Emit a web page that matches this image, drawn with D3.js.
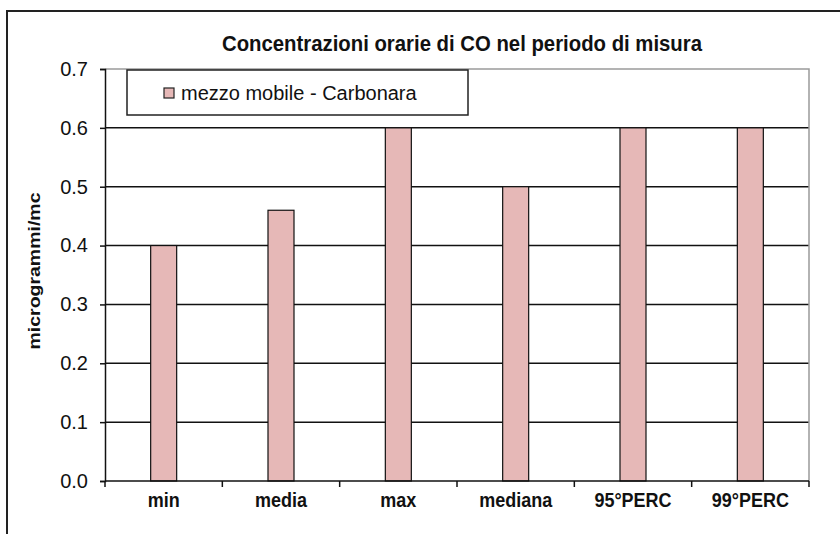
<!DOCTYPE html>
<html><head><meta charset="utf-8">
<script src="https://cdn.jsdelivr.net/npm/d3@7"></script>
<style>html,body{margin:0;padding:0;background:#fff;}svg{display:block;}</style>
</head><body>
<svg id="chart" width="840" height="534"></svg>
<script>
const categories = ["min", "media", "max", "mediana", "95°PERC", "99°PERC"];
const values = [0.4, 0.46, 0.6, 0.5, 0.6, 0.6];
const yTicks = [0.0, 0.1, 0.2, 0.3, 0.4, 0.5, 0.6, 0.7];
const seriesName = "mezzo mobile - Carbonara";
const titleText = "Concentrazioni orarie di CO nel periodo  di misura";
const yTitle = "microgrammi/mc";

const svg = d3.select("#chart");
const font = "Liberation Sans, Arial, sans-serif";
const barColor = "#e6b8b7";

// outer frame
svg.append("rect").attr("x", 7).attr("y", 11).attr("width", 900).attr("height", 600)
  .attr("fill", "none").attr("stroke", "#222").attr("stroke-width", 2);

const L = 105, R = 809, T = 69, B = 481;
const x = d3.scaleBand().domain(categories).range([L, R]);
const y = d3.scaleLinear().domain([0, 0.7]).range([B, T]);

// gridlines
svg.append("g").selectAll("line").data(yTicks.filter(d => d > 0 && d < 0.7)).join("line")
  .attr("x1", L).attr("x2", R).attr("y1", d => y(d)).attr("y2", d => y(d))
  .attr("stroke", "#111").attr("stroke-width", 1.5);
// top & right plot border (gray)
svg.append("path").attr("d", `M${L},${y(0.7)}H${R}V${B}`)
  .attr("fill", "none").attr("stroke", "#9a9a9a").attr("stroke-width", 1.5);

// bars
const bw = 26;
svg.append("g").selectAll("rect").data(categories).join("rect")
  .attr("x", (d) => x(d) + x.bandwidth() / 2 - bw / 2)
  .attr("y", (d, i) => y(values[i]))
  .attr("width", bw)
  .attr("height", (d, i) => y(0) - y(values[i]))
  .attr("fill", barColor).attr("stroke", "#111").attr("stroke-width", 1.2);

// y axis
const yAxis = d3.axisLeft(y).tickValues(yTicks).tickFormat(d3.format(".1f")).tickSize(5).tickPadding(12);
const gy = svg.append("g").attr("transform", `translate(${L},0)`).call(yAxis);
gy.select(".domain").attr("stroke", "#111").attr("stroke-width", 1.5);
gy.selectAll(".tick line").attr("stroke", "#111").attr("stroke-width", 1.5);
gy.selectAll("text").attr("font-family", font).attr("font-size", 20).attr("fill", "#111");

// x axis
const gx = svg.append("g").attr("transform", `translate(0,${B})`)
  .call(d3.axisBottom(x).tickSize(0).tickPadding(12));
gx.select(".domain").remove();
gx.append("line").attr("x1", L).attr("x2", R).attr("stroke", "#111").attr("stroke-width", 1.5);
const bounds = categories.map(c => x(c)).concat([R]);
gx.selectAll("line.sep").data(bounds).join("line").attr("class", "sep")
  .attr("x1", d => d).attr("x2", d => d).attr("y1", 0).attr("y2", 6)
  .attr("stroke", "#111").attr("stroke-width", 1.5);
gx.selectAll(".tick text").attr("font-family", font).attr("font-size", 20)
  .attr("font-weight", "bold").attr("fill", "#111").attr("dy", "0.71em")
  .attr("transform", "scale(0.9,1)").attr("x", 0);

// title
svg.append("text").attr("x", 462).attr("y", 51).attr("text-anchor", "middle")
  .attr("font-family", font).attr("font-size", 22).attr("font-weight", "bold")
  .attr("textLength", 480).attr("lengthAdjust", "spacingAndGlyphs")
  .attr("fill", "#111").text(titleText);

// y title
svg.append("text").attr("transform", "translate(40,271) rotate(-90)")
  .attr("text-anchor", "middle").attr("font-family", font).attr("font-size", 17)
  .attr("font-weight", "bold").attr("textLength", 157).attr("lengthAdjust", "spacingAndGlyphs")
  .attr("fill", "#111").text(yTitle);

// legend
const lg = svg.append("g");
lg.append("rect").attr("x", 127).attr("y", 70).attr("width", 341).attr("height", 45)
  .attr("fill", "#fff").attr("stroke", "#222").attr("stroke-width", 1.5);
lg.append("rect").attr("x", 164).attr("y", 88).attr("width", 10).attr("height", 10)
  .attr("fill", barColor).attr("stroke", "#222").attr("stroke-width", 1.2);
lg.append("text").attr("x", 181).attr("y", 100).attr("font-family", font).attr("font-size", 20)
  .attr("fill", "#111").text(seriesName);
</script>
</body></html>
